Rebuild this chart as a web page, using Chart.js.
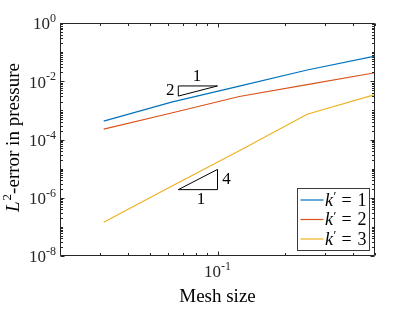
<!DOCTYPE html>
<html><head><meta charset="utf-8">
<script src="https://cdn.jsdelivr.net/npm/chart.js@4/dist/chart.umd.min.js"></script>
<style>html,body{margin:0;padding:0;background:#fff;}canvas{display:block;}</style>
</head><body>
<canvas id="c" width="415" height="312"></canvas>
<script>
// ---- data ----
const meshSizes = [0.03125, 0.0625, 0.125, 0.25, 0.5];
const errK1 = [4.3e-4, 1.93e-3, 6.8e-3, 2.43e-2, 7.3e-2];
const errK2 = [2.28e-4, 8.1e-4, 3.0e-3, 7.7e-3, 1.96e-2];
const errK3 = [1.45e-7, 2.5e-6, 4.1e-5, 7.4e-4, 3.5e-3];
const seriesNames = ["1", "2", "3"];
const yTickExps = [0, -2, -4, -6, -8];
const xTickExps = [-1];
const xRange = [0.02, 0.5];
const yRange = [1e-8, 1];
// slope triangles (data coordinates)
const tri2X = [0.067, 0.1, 0.067, 0.067];
const tri2Y = [6.9e-3, 6.9e-3, 3.1e-3, 6.9e-3];
const tri4X = [0.067, 0.1, 0.1, 0.067];
const tri4Y = [1.9e-6, 1.9e-6, 9.4e-6, 1.9e-6];
const tri2Labels = ["1", "2"];
const tri4Labels = ["1", "4"];

const colors = ['#0072BD', '#D95319', '#EDB120'];
const FONT = '"Liberation Serif", "Times New Roman", serif';
const AX = '#262626';

const pts = (xs, ys) => xs.map((v, i) => ({x: v, y: ys[i]}));
const series = [errK1, errK2, errK3];

const datasets = series.map((s, i) => ({
  label: "k' = " + seriesNames[i],
  data: pts(meshSizes, s),
  borderColor: colors[i], backgroundColor: colors[i],
  borderWidth: 1.2, pointRadius: 0, tension: 0, fill: false
}));
datasets.push({label: 'tri2', data: pts(tri2X, tri2Y), borderColor: '#000', borderWidth: 1, pointRadius: 0, tension: 0, fill: false});
datasets.push({label: 'tri4', data: pts(tri4X, tri4Y), borderColor: '#000', borderWidth: 1, pointRadius: 0, tension: 0, fill: false});

function drawPow(ctx, x, y, exp, align) {
  const b = '10', e = String(exp);
  ctx.font = '17px ' + FONT;
  const wb = ctx.measureText(b).width;
  ctx.font = '12px ' + FONT;
  const we = ctx.measureText(e).width;
  const total = wb + we;
  let sx = align === 'right' ? x - total : x - total / 2;
  ctx.textAlign = 'left'; ctx.textBaseline = 'middle';
  ctx.font = '17px ' + FONT;
  ctx.fillText(b, sx, y + 2);
  ctx.font = '12px ' + FONT;
  ctx.fillText(e, sx + wb, y - 4);
}

const deco = {
  id: 'deco',
  afterDraw(chart) {
    const {ctx, chartArea: a, scales: {x, y}} = chart;
    ctx.save();
    ctx.fillStyle = AX; ctx.strokeStyle = AX; ctx.lineWidth = 1;
    const L = Math.round(a.left) + 0.5, R = Math.round(a.right) - 0.5;
    const T = Math.round(a.top) + 0.5, B = Math.round(a.bottom) - 0.5;
    ctx.beginPath();
    ctx.rect(L, T, R - L, B - T);
    ctx.stroke();
    // y ticks
    ctx.beginPath();
    for (let k = -8; k <= 0; k++) {
      const major = (k % 2 === 0);
      const py = Math.round(y.getPixelForValue(Math.pow(10, k))) + 0.5;
      const len = major ? 4 : 2.5;
      ctx.moveTo(L, py); ctx.lineTo(L + len, py);
      ctx.moveTo(R, py); ctx.lineTo(R - len, py);
      if (k < 0) {
        for (let m = 2; m <= 9; m++) {
          const p = Math.round(y.getPixelForValue(m * Math.pow(10, k))) + 0.5;
          ctx.moveTo(L, p); ctx.lineTo(L + 2.5, p);
          ctx.moveTo(R, p); ctx.lineTo(R - 2.5, p);
        }
      }
    }
    // x ticks
    const xMinor = [];
    for (let m = 2; m <= 9; m++) xMinor.push(m * 0.01);
    for (let m = 2; m <= 5; m++) xMinor.push(m * 0.1);
    xMinor.forEach(v => {
      const px = Math.round(x.getPixelForValue(v)) + 0.5;
      ctx.moveTo(px, B); ctx.lineTo(px, B - 2.5);
      ctx.moveTo(px, T); ctx.lineTo(px, T + 2.5);
    });
    xTickExps.forEach(k => {
      const px = Math.round(x.getPixelForValue(Math.pow(10, k))) + 0.5;
      ctx.moveTo(px, B); ctx.lineTo(px, B - 4);
      ctx.moveTo(px, T); ctx.lineTo(px, T + 4);
    });
    ctx.stroke();
    // tick labels
    ctx.fillStyle = AX;
    yTickExps.forEach(k => drawPow(ctx, a.left - 4, y.getPixelForValue(Math.pow(10, k)), k, 'right'));
    xTickExps.forEach(k => drawPow(ctx, x.getPixelForValue(Math.pow(10, k)), a.bottom + 15, k, 'center'));
    // axis titles
    ctx.fillStyle = '#000';
    ctx.font = '19px ' + FONT; ctx.textAlign = 'center'; ctx.textBaseline = 'middle';
    ctx.fillText('Mesh size', (a.left + a.right) / 2, a.bottom + 41);
    ctx.save();
    ctx.translate(14, (a.top + a.bottom) / 2 - 2);
    ctx.rotate(-Math.PI / 2);
    ctx.font = 'italic 19px ' + FONT; const wL = ctx.measureText('L').width;
    ctx.font = '13px ' + FONT; const w2 = ctx.measureText('2').width;
    ctx.font = '19px ' + FONT; const wr = ctx.measureText('-error in pressure').width;
    let sx = -(wL + w2 + 1 + wr) / 2;
    ctx.textAlign = 'left';
    ctx.font = 'italic 19px ' + FONT; ctx.fillText('L', sx, 0);
    ctx.font = '13px ' + FONT; ctx.fillText('2', sx + wL + 1, -6);
    ctx.font = '19px ' + FONT; ctx.fillText('-error in pressure', sx + wL + 1 + w2, 0);
    ctx.restore();
    // slope triangle labels
    ctx.font = '17px ' + FONT; ctx.textAlign = 'center'; ctx.textBaseline = 'middle'; ctx.fillStyle = '#000';
    const t2l = x.getPixelForValue(tri2X[0]), t2r = x.getPixelForValue(tri2X[1]);
    const t2t = y.getPixelForValue(tri2Y[0]), t2b = y.getPixelForValue(tri2Y[2]);
    ctx.fillText(tri2Labels[0], (t2l + t2r) / 2 - 1, t2t - 9);
    ctx.fillText(tri2Labels[1], t2l - 8, (t2t + t2b) / 2);
    const t4l = x.getPixelForValue(tri4X[0]), t4r = x.getPixelForValue(tri4X[1]);
    const t4b = y.getPixelForValue(tri4Y[0]), t4t = y.getPixelForValue(tri4Y[2]);
    ctx.fillText(tri4Labels[0], (t4l + t4r) / 2 + 3, t4b + 10);
    ctx.fillText(tri4Labels[1], t4r + 9, (t4t + t4b) / 2);
    // legend
    const bx = 297.5, by = 188.5, bw = 72, bh = 62;
    ctx.fillStyle = '#fff'; ctx.fillRect(bx, by, bw, bh);
    ctx.strokeStyle = '#3a3a3a'; ctx.lineWidth = 1; ctx.strokeRect(bx, by, bw, bh);
    seriesNames.forEach((n, i) => {
      const ry = by + 11.5 + i * 19.5;
      ctx.strokeStyle = colors[i]; ctx.lineWidth = 1.2;
      ctx.beginPath(); ctx.moveTo(bx + 3, ry); ctx.lineTo(bx + 26, ry); ctx.stroke();
      ctx.fillStyle = '#000'; ctx.textAlign = 'left'; ctx.textBaseline = 'middle';
      ctx.font = 'italic 18px ' + FONT; ctx.fillText('k', bx + 27.5, ry + 1);
      ctx.font = '13px ' + FONT; ctx.fillText('\u2032', bx + 36, ry - 3);
      ctx.font = '18px ' + FONT; ctx.fillText('=', bx + 44, ry + 1);
      ctx.fillText(n, bx + 60, ry + 1);
    });
    ctx.restore();
  }
};

new Chart(document.getElementById('c'), {
  type: 'line',
  data: {datasets},
  options: {
    responsive: false, animation: false, devicePixelRatio: 1,
    layout: {padding: {left: 60, top: 23, right: 40, bottom: 56}},
    scales: {
      x: {type: 'logarithmic', min: xRange[0], max: xRange[1], display: false},
      y: {type: 'logarithmic', min: yRange[0], max: yRange[1], display: false}
    },
    plugins: {legend: {display: false}, tooltip: {enabled: false}}
  },
  plugins: [deco]
});
</script>
</body></html>
